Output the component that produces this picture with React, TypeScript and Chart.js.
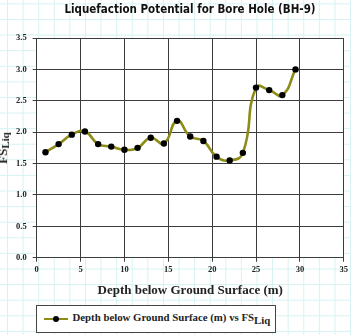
import React, { useEffect, useRef } from "react";
import { Chart, registerables } from "chart.js";

Chart.register(...registerables);

const depths = [1, 2.5, 4, 5.5, 7, 8.5, 10, 11.5, 13, 14.5, 16, 17.5, 19, 20.5, 22, 23.5, 25, 26.5, 28, 29.5];
const fsLiq = [1.68, 1.81, 1.96, 2.01, 1.81, 1.77, 1.72, 1.75, 1.91, 1.82, 2.18, 1.93, 1.86, 1.61, 1.55, 1.67, 2.71, 2.67, 2.59, 3.0];

const titleText = "Liquefaction Potential for Bore Hole (BH-9)";
const xTitle = "Depth below Ground Surface (m)";
const seriesName = "Depth below Ground Surface (m) vs FS";
const subText = "Liq";

const OLIVE = "#8c8c16";
const SERIF = "'Liberation Serif', 'Times New Roman', serif";

const plotBg = {
  id: "plotBg",
  beforeDraw(chart: any) {
    const { ctx, chartArea } = chart;
    if (!chartArea) return;
    ctx.save();
    ctx.fillStyle = "#ffffff";
    ctx.fillRect(chartArea.left, chartArea.top, chartArea.right - chartArea.left, chartArea.bottom - chartArea.top);
    ctx.restore();
  },
};

export default function App() {
  const ref = useRef<HTMLCanvasElement | null>(null);

  useEffect(() => {
    if (!ref.current) return;
    const chart = new Chart(ref.current, {
      type: "line",
      data: {
        datasets: [
          {
            label: seriesName + subText,
            data: depths.map((d, i) => ({ x: d, y: fsLiq[i] })),
            borderColor: OLIVE,
            borderWidth: 2.6,
            tension: 0.5,
            pointRadius: 3.2,
            pointBackgroundColor: "#000",
            pointBorderColor: "#000",
            pointBorderWidth: 0,
            fill: false,
          },
        ],
      },
      options: {
        animation: false,
        responsive: false,
        maintainAspectRatio: false,
        layout: { padding: { left: 0, right: 3.7, top: 38, bottom: 0 } },
        plugins: {
          legend: { display: false },
          title: { display: false },
          tooltip: { enabled: false },
        },
        scales: {
          x: {
            type: "linear",
            min: 0,
            max: 35,
            ticks: {
              stepSize: 5,
              color: "#222",
              padding: 3,
              maxRotation: 0,
              font: { family: SERIF, size: 8.5, weight: "bold" },
            },
            grid: { color: "#3c3c3c", lineWidth: 1, tickLength: 4, drawTicks: true },
            border: { color: "#3c3c3c", width: 1 },
            title: {
              display: true,
              text: xTitle,
              color: "#222",
              font: { family: SERIF, size: 13, weight: "bold", lineHeight: 1.2 },
              padding: { top: 0, bottom: 36.5 },
            },
            afterFit: (s: any) => {
              s.height = 335 - 257.7;
            },
          },
          y: {
            min: 0,
            max: 3.5,
            ticks: {
              stepSize: 0.5,
              color: "#222",
              padding: 6,
              font: { family: SERIF, size: 8.5, weight: "bold" },
              callback: (v: any) => Number(v).toFixed(1),
            },
            grid: { color: "#3c3c3c", lineWidth: 1, tickLength: 4, drawTicks: true },
            border: { color: "#3c3c3c", width: 1 },
            afterFit: (s: any) => {
              s.width = 36.7;
            },
          },
        },
      },
      plugins: [plotBg],
    });
    return () => chart.destroy();
  }, []);

  return (
    <div
      style={{
        position: "fixed",
        left: 0,
        top: 0,
        width: 351,
        height: 335,
        overflow: "hidden",
        background: "#ffffff",
        backgroundImage:
          "linear-gradient(to right, #d6f2f2 1px, transparent 1px), linear-gradient(to bottom, #d6f2f2 1px, transparent 1px)",
        backgroundSize: "15.6px 15.6px",
        backgroundPosition: "7px 3.4px",
      }}
    >
      <canvas ref={ref} width={351} height={335} style={{ position: "absolute", left: 0, top: 0, width: 351, height: 335 }} />
      <div
        style={{
          position: "absolute",
          left: 0,
          top: 2,
          width: 380,
          textAlign: "center",
          fontFamily: "'DejaVu Sans', Verdana, sans-serif",
          fontWeight: "bold",
          fontStretch: "condensed",
          fontSize: 11.5,
          color: "#111",
          whiteSpace: "nowrap",
        }}
      >
        {titleText}
      </div>
      <div
        style={{
          position: "absolute",
          left: 4,
          top: 148,
          transform: "translate(-50%, -50%) rotate(-90deg)",
          fontFamily: SERIF,
          fontWeight: "bold",
          fontSize: 13,
          color: "#222",
          whiteSpace: "nowrap",
          lineHeight: "14px",
        }}
      >
        FS<sub style={{ fontSize: 11, verticalAlign: "-2px" }}>Liq</sub>
      </div>
      <div
        style={{
          position: "absolute",
          left: 36,
          top: 305,
          width: 238,
          height: 26,
          border: "1px solid #444",
          background: "#fff",
        }}
      >
        <div style={{ position: "absolute", left: 6.5, top: 11.5, width: 24, height: 2.6, background: OLIVE }} />
        <div
          style={{
            position: "absolute",
            left: 15.5,
            top: 9.6,
            width: 6.4,
            height: 6.4,
            borderRadius: "50%",
            background: "#000",
          }}
        />
        <div
          style={{
            position: "absolute",
            left: 35.5,
            top: 5,
            fontFamily: SERIF,
            fontWeight: "bold",
            fontSize: 10.8,
            color: "#222",
            whiteSpace: "nowrap",
            lineHeight: "13px",
          }}
        >
          {seriesName}
          <sub style={{ fontSize: 10.8, verticalAlign: "-3px", lineHeight: 0 }}>{subText}</sub>
        </div>
      </div>
    </div>
  );
}
